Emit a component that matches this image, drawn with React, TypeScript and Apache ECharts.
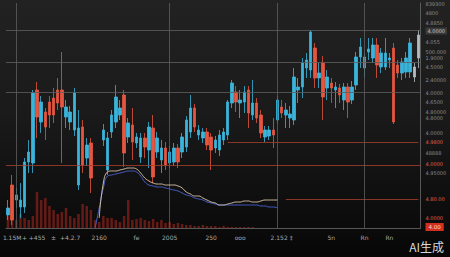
import React, { useEffect, useRef } from "react";
import * as echarts from "echarts";

// [open, close, low, high]; null = no candle
const candles: (number[] | null)[] = [
  [13, 20, 8, 28], [43, 8, 3, 53], [28, 33, 20, 40], [21, 28, 10, 45], [21, 66, 15, 70],
  [66, 76, 55, 88], [65, 135, 55, 138], [138, 111, 90, 146], [106, 126, 95, 132], [116, 101, 88, 120],
  [126, 113, 100, 132], [130, 113, 105, 140], [138, 125, 118, 150], [138, 121, 65, 176], [111, 121, 100, 128],
  [106, 116, 98, 122], [98, 135, 92, 140], [43, 100, 38, 118], [101, 63, 55, 108], [70, 83, 62, 90],
  [85, 50, 35, 90], null, null, [88, 98, 82, 104], [58, 90, 53, 96],
  [96, 113, 90, 118], [106, 131, 100, 143], [113, 120, 108, 128], [133, 75, 61, 138], [91, 105, 85, 110],
  [103, 86, 68, 120], [85, 91, 80, 95], [71, 90, 65, 95], [90, 81, 70, 95], [78, 101, 60, 106],
  [100, 51, 45, 113], [76, 90, 70, 96], [68, 80, 55, 88], [80, 63, 58, 86], [65, 76, 60, 82],
  [66, 80, 62, 85], [80, 66, 60, 84], [76, 91, 70, 95], [81, 108, 76, 112], [96, 120, 90, 133],
  [120, 101, 96, 124], [93, 98, 88, 103], [90, 96, 85, 100], [96, 83, 78, 100], [91, 78, 58, 95],
  [80, 88, 75, 92], [78, 93, 72, 98], [88, 96, 83, 100], [93, 126, 88, 128], [125, 145, 120, 148],
  [136, 126, 116, 142], [125, 128, 110, 138], [126, 136, 115, 142], [138, 115, 100, 142], [113, 125, 108, 148],
  [125, 110, 105, 130], [113, 95, 90, 118], [91, 98, 86, 102], [92, 98, 88, 102], [98, 93, 80, 110],
  [108, 128, 104, 132], [121, 115, 110, 128], [113, 118, 100, 125], [110, 114, 100, 122], [108, 151, 103, 160],
  [138, 141, 125, 150], [141, 165, 130, 170], [160, 168, 150, 175], [158, 196, 150, 198], [180, 150, 140, 185],
  [150, 155, 140, 165], [165, 131, 108, 172], [140, 151, 128, 158], [145, 140, 125, 150], [138, 141, 120, 146],
  [140, 133, 125, 144], [128, 141, 118, 145], [141, 126, 110, 145], [128, 141, 124, 147], [143, 171, 138, 176],
  [171, 181, 160, 190], [160, 171, 150, 175], [176, 179, 168, 190], [170, 183, 165, 190], [183, 163, 150, 190],
  [161, 175, 155, 180], [161, 175, 158, 190], [168, 170, 160, 175], [180, 106, 104, 185], [163, 155, 150, 168],
  [155, 166, 148, 170], [156, 170, 150, 176], [156, 185, 150, 190], [151, 161, 146, 165], [170, 193, 160, 198],
];

const volumes: number[] = [
  12, 20, 8, 14, 10, 8, 12, 36, 28, 30, 22, 18, 14, 16, 20, 12, 10, 14, 24, 22,
  18, 8, 6, 12, 10, 10, 8, 6, 12, 28, 8, 9, 10, 8, 7, 9, 6, 8, 5, 6,
  4, 5, 4, 3, 3, 2, 2, 3, 2, 2, 2, 1, 2, 1, 1, 1, 1, 1, 1, 1,
];

const maWhite: (number | null)[] = [
  null, null, null, null, null, null, null, null, null, null, null, null, null, null, null, null, null, null, null, null,
  null, null, 10, 45, 56, 57, 57, 58, 59, 60, 60, 59, 55, 50, 47, 45, 44, 44, 43, 43,
  43, 42, 40, 36, 34, 32, 32, 30, 28, 26, 25, 23, 23, 24, 25, 26, 26, 27, 27, 26,
  26, 27, 28, 28, 28, 28,
];

const maBlue: (number | null)[] = [
  null, null, null, null, null, null, null, null, null, null, null, null, null, null, null, null, null, null, null, null,
  null, 0, 20, 40, 52, 53, 54, 55, 56, 57, 57, 56, 52, 46, 43, 42, 41, 41, 40, 39,
  38, 37, 35, 33, 32, 30, 29, 28, 26, 25, 24, 23, 23, 23, 23, 23, 23, 23, 23, 23,
  23, 22, 22, 21, 21, 20,
];

const xTickLabels: [number, string][] = [
  [1, "1.15M"], [4, "+"], [7, "+455"], [11, "±"], [15, "+4.2.7"], [22, "2160"], [31, "fe"],
  [39, "2005"], [49, "250"], [56, "ooo"], [66, "2.152 ‡"], [78, "5n"], [86, "Rn"], [92, "Rn"],
];

const yTickLabels: [number, string][] = [
  [224, "839300"], [215, "4800"], [205, "4.8850"], [197, "4.0000"], [186, "4.055"], [176, "500.000"],
  [170, "1.9000"], [161, "4.5000"], [148, "2.40000"], [135, "4.0000"], [126, "4.6500"], [116, "4.80000"],
  [110, "4.8000"], [95, "4.0000"], [86, "4.9800"], [75, "48888"], [64, "4.0000"], [55, "4.95000"],
  [29, "4.80.00"], [10, "4.0000"], [1, "4.00"],
];
const redTicks: number[] = [86, 64, 29, 10];
const boxTick = 1;
const grayBoxTick = 197;

const grayCandles: number[] = [98, 99];
const grayLevels: number[] = [198, 166, 136];
const redLevels: number[] = [63];
const vLines: number[] = [2, 39, 65, 86];

export default function App() {
  const ref = useRef<HTMLDivElement>(null);
  useEffect(() => {
    document.body.style.margin = "0";
    if (!ref.current) return;
    const chart = echarts.init(ref.current, null, { renderer: "svg" });
    const categories = candles.map((_, i) => String(i));
    const xMap = new Map(xTickLabels);
    const yMap = new Map(yTickLabels);
    const candleData = candles.map((c, i) => {
      if (!c) return "-";
      if (grayCandles.includes(i)) {
        return { value: c, itemStyle: { color: "#b4bcc4", color0: "#b4bcc4", borderColor: "#b4bcc4", borderColor0: "#b4bcc4" } };
      }
      return c;
    });
    const gridLine = { color: "#5e5e5e", width: 0.8, type: "solid" as const };
    const redLine = { color: "#a8402e", width: 0.8, type: "solid" as const };
    chart.setOption({
      animation: false,
      backgroundColor: new echarts.graphic.LinearGradient(0, 0, 0, 1, [
        { offset: 0, color: "#222222" },
        { offset: 0.45, color: "#1a1a1a" },
        { offset: 1, color: "#070707" },
      ]),
      grid: { left: 0, right: 23, top: 3, bottom: 29 },
      xAxis: {
        type: "category",
        data: categories,
        boundaryGap: true,
        axisLine: { lineStyle: { color: "#6a6a6a", width: 0.8 } },
        axisTick: { show: false },
        splitLine: { show: false },
        axisLabel: {
          interval: 0,
          color: "#a8a8a8",
          fontSize: 6,
          margin: 6,
          fontFamily: "DejaVu Sans",
          formatter: (_v: string, i: number) => xMap.get(i) ?? "",
        },
      },
      yAxis: {
        type: "value",
        position: "right",
        min: 0,
        max: 225,
        interval: 1,
        axisLine: { show: true, lineStyle: { color: "#6a6a6a", width: 0.8 } },
        axisTick: { show: false },
        splitLine: { show: false },
        axisLabel: {
          color: "#8c8c8c",
          fontSize: 5,
          margin: 5,
          fontFamily: "DejaVu Sans",
          formatter: (v: number) => {
            const t = yMap.get(v);
            if (!t) return "";
            if (v === boxTick) return `{box|${t}}`;
            if (v === grayBoxTick) return `{gbox|${t}}`;
            if (redTicks.includes(v)) return `{red|${t}}`;
            return t;
          },
          rich: {
            red: { color: "#e0604a", fontSize: 5, fontFamily: "DejaVu Sans" },
            box: { color: "#ffd8cc", backgroundColor: "#d0301e", fontSize: 5.5, padding: [1, 3], fontFamily: "DejaVu Sans" },
            gbox: { color: "#c8c8c8", backgroundColor: "#3a3a3a", fontSize: 5, padding: [1, 2], fontFamily: "DejaVu Sans" },
          },
        },
      },
      series: [
        {
          type: "bar",
          data: volumes,
          barWidth: 2.5,
          itemStyle: { color: "rgba(160,38,30,0.6)" },
          silent: true,
          z: 1,
        },
        {
          type: "candlestick",
          data: candleData,
          barWidth: 3,
          itemStyle: {
            color: "#3ab4da",
            color0: "#e5553f",
            borderColor: "#3ab4da",
            borderColor0: "#e5553f",
            borderWidth: 0.8,
          },
          markLine: {
            silent: true,
            symbol: "none",
            label: { show: false },
            data: [
              ...grayLevels.map((v) => ({ yAxis: v, lineStyle: gridLine })),
              ...redLevels.map((v) => ({ yAxis: v, lineStyle: redLine })),
              [{ coord: [53, 86], lineStyle: redLine }, { coord: [99, 86] }],
              [{ coord: [67, 29], lineStyle: redLine }, { coord: [99, 29] }],
              ...vLines.map((i) => ({ xAxis: i, lineStyle: gridLine })),
            ],
          },
          z: 3,
        },
        {
          type: "line",
          data: maBlue,
          showSymbol: false,
          connectNulls: false,
          smooth: true,
          lineStyle: { color: "#4d66d8", width: 0.9 },
          z: 4,
        },
        {
          type: "line",
          data: maWhite,
          showSymbol: false,
          connectNulls: false,
          smooth: true,
          lineStyle: { color: "#e2cdb0", width: 0.9 },
          z: 5,
        },
      ],
      graphic: [
        {
          type: "text",
          right: 6,
          bottom: 5,
          style: { text: "AI生成", fill: "#d8d8d8", font: '12px "Noto Sans CJK SC"' },
        },
      ],
    });
    return () => chart.dispose();
  }, []);
  return <div ref={ref} style={{ width: 450, height: 257 }} />;
}
